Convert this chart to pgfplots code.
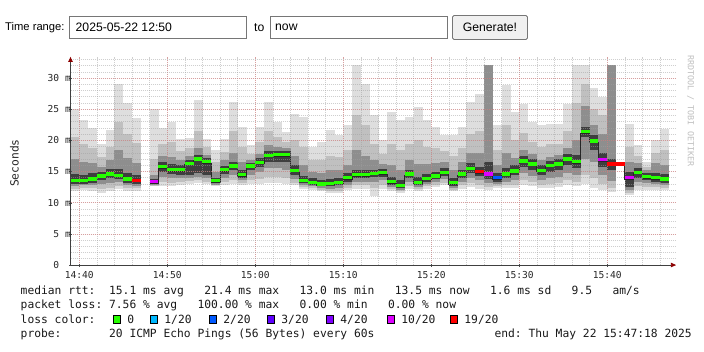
\documentclass[border=0pt]{standalone}
\usepackage{pgfplots}
\pgfplotsset{compat=1.18}
\usepackage{pgfplotstable}
\usepackage{fontspec}
\setmainfont{Liberation Sans}
\setmonofont{DejaVu Sans Mono}
\usetikzlibrary{arrows.meta}

\definecolor{sA}{HTML}{DEDEDE}
\definecolor{sB}{HTML}{C0C0C0}
\definecolor{sC}{HTML}{8E8E8E}
\definecolor{sD}{HTML}{3E3E3E}
\definecolor{l0}{HTML}{26FF00}
\definecolor{l1}{HTML}{00B8FF}
\definecolor{l2}{HTML}{0059FF}
\definecolor{l3}{HTML}{5E00FF}
\definecolor{l4}{HTML}{7E00FF}
\definecolor{l10}{HTML}{DD00FF}
\definecolor{l19}{HTML}{FF0000}
\definecolor{mgrid}{HTML}{E07070}
\definecolor{ngrid}{HTML}{A0A0A0}
\definecolor{boxgray}{HTML}{767676}

\newcommand{\legfont}{\ttfamily\fontsize{11.3}{13}\selectfont\frenchspacing}
\newcommand{\tickfont}{\ttfamily\fontsize{9.6}{11}\selectfont}
\newcommand{\formfont}{\rmfamily\fontsize{12.2}{14}\selectfont}
\newcommand{\swatch}[1]{{\setlength{\fboxsep}{0pt}\setlength{\fboxrule}{0.6pt}\fcolorbox{black}{#1}{\rule{0pt}{7.5pt}\hspace{6.5pt}}}}

% x = centre of the one-minute bar (minutes after 14:40)
\pgfplotstableread{
x    lo1  lo2  lo3  lo4  med  hi4  hi3  hi2  hi1
-0.5 11.8 12.2 12.7 13.0 13.6 14.6 17.0 20.5 25.1
0.5  12.0 12.4 12.8 13.0 13.6 14.5 16.5 19.4 23.3
1.5  11.8 12.3 12.9 13.2 13.8 14.7 16.3 18.7 22.0
2.5  11.6 12.2 13.0 13.6 14.3 15.0 15.8 17.4 19.4
3.5  11.8 12.4 13.2 13.9 14.6 15.4 16.8 18.9 21.7
4.5  12.2 12.7 13.3 13.8 14.4 15.4 18.5 23.0 29.0
5.5  11.8 12.3 12.8 13.2 13.8 14.8 17.2 21.0 26.0
6.5  11.9 12.3 12.7 13.0 13.6 14.5 16.4 19.6 23.6
7.5  nan  nan  nan  nan  nan  nan  nan  nan  nan
8.5  12.6 12.7 12.9 13.0 13.4 13.8 14.5 17.0 25.1
9.5  12.6 13.3 14.2 15.0 15.8 16.5 17.5 19.5 22.0
10.5 12.6 13.2 14.0 14.6 15.3 16.2 17.3 19.8 23.0
11.5 12.8 13.3 13.9 14.5 15.3 16.0 16.8 18.3 20.3
12.5 13.0 13.5 14.0 14.5 16.3 16.9 17.5 18.8 20.4
13.5 13.2 13.6 14.2 14.8 17.0 17.6 18.8 21.5 26.5
14.5 13.0 13.4 14.0 14.5 16.6 17.1 17.6 18.9 20.3
15.5 12.6 12.8 12.9 13.1 13.5 14.0 15.0 16.5 18.5
16.5 12.8 13.3 14.0 14.6 15.3 15.9 16.8 18.2 20.2
17.5 13.0 13.6 14.4 15.2 15.9 16.6 18.0 21.5 26.2
18.5 12.8 13.1 13.6 14.0 14.5 15.2 16.5 19.0 22.1
19.5 13.0 13.6 14.5 15.2 15.9 16.4 16.8 17.8 19.3
20.5 13.0 13.8 15.0 15.8 16.5 17.1 17.8 19.8 22.2
21.5 13.2 14.2 15.5 16.5 17.6 18.3 19.2 21.5 26.2
22.5 13.2 14.2 15.5 16.5 17.7 18.3 19.0 20.5 23.0
23.5 13.0 14.0 15.3 16.6 17.7 18.3 18.8 19.8 21.4
24.5 12.8 13.2 13.8 14.5 15.2 16.0 17.5 20.0 24.3
25.5 12.2 12.5 12.8 13.1 13.6 14.3 16.0 19.0 23.8
26.5 12.0 12.3 12.6 12.9 13.3 14.0 15.0 16.8 19.0
27.5 11.8 12.0 12.3 12.6 13.0 13.6 14.8 16.8 19.8
28.5 11.6 11.9 12.2 12.6 13.1 13.8 15.2 17.5 21.7
29.5 11.5 11.9 12.3 12.8 13.3 14.0 15.3 17.3 20.9
30.5 12.0 12.4 12.9 13.4 14.0 14.7 16.0 18.5 22.5
31.5 12.2 12.8 13.4 14.0 14.5 15.3 18.5 24.0 32.1
32.5 12.2 12.8 13.4 13.9 14.5 15.2 17.5 22.5 29.0
33.5 11.1 12.3 13.3 14.1 14.7 15.3 16.8 19.5 24.1
34.5 12.2 12.9 13.6 14.2 14.8 15.4 16.2 17.8 20.1
35.5 11.9 12.2 12.5 12.9 13.4 14.2 16.0 19.5 24.6
36.5 11.6 11.8 12.0 12.3 12.8 13.6 15.3 18.5 23.3
37.5 12.2 12.7 13.3 13.9 14.6 15.3 16.8 19.5 23.8
38.5 11.9 12.2 12.5 12.8 13.3 14.1 16.2 20.0 25.4
39.5 12.2 12.6 13.0 13.4 13.9 14.6 16.2 19.0 23.3
40.5 12.5 12.9 13.3 13.8 14.3 15.0 16.3 18.8 22.2
41.5 12.8 13.2 13.8 14.3 14.9 15.6 16.5 18.3 20.9
42.5 11.8 12.1 12.4 12.7 13.2 14.0 15.3 17.5 20.9
43.5 12.2 12.8 13.4 14.0 14.6 15.3 16.5 18.8 22.2
44.5 12.5 13.2 14.0 14.8 15.5 16.3 18.0 21.0 26.2
45.5 12.2 12.8 13.6 14.3 15.0 15.8 18.0 21.5 27.5
46.5 12.0 12.5 13.2 13.8 14.6 16.5 32.1 32.1 32.1
47.5 12.3 12.6 13.0 13.4 14.0 14.8 16.0 18.5 22.5
48.5 12.3 12.8 13.4 13.9 14.6 15.5 18.0 22.5 28.9
49.5 12.3 12.9 13.7 14.4 15.1 16.0 17.2 20.0 24.5
50.5 12.8 13.6 14.8 15.8 16.7 17.5 18.5 21.2 25.9
51.5 12.6 13.3 14.3 15.2 16.2 17.0 17.8 19.8 23.0
52.5 12.4 12.9 13.7 14.4 15.2 16.0 16.8 19.0 22.5
53.5 12.4 13.0 14.0 15.0 16.0 16.7 17.4 19.5 22.7
54.5 12.5 13.1 14.2 15.3 16.2 17.0 17.6 19.5 22.7
55.5 12.8 13.6 14.8 16.0 17.0 17.8 18.8 21.5 25.9
56.5 12.6 13.4 14.5 15.6 16.6 17.6 20.0 26.0 32.1
57.5 13.0 14.5 17.0 20.5 21.4 22.2 25.5 29.0 32.1
58.5 12.3 14.0 16.5 18.5 19.9 20.8 22.5 25.0 28.4
59.5 12.0 13.0 14.5 15.8 16.9 18.0 21.0 24.0 26.9
60.5 11.7 12.3 13.5 15.2 16.2 17.0 32.1 32.1 32.1
61.5 nan  nan  nan  nan  16.2 nan  nan  nan  nan
62.5 11.2 11.5 12.0 12.5 14.0 15.0 16.5 19.0 22.7
63.5 12.0 12.6 13.4 14.0 14.9 15.5 16.3 17.5 19.3
64.5 12.0 12.5 13.1 13.6 14.2 14.8 15.2 15.8 16.6
65.5 12.0 12.5 13.0 13.4 14.0 14.8 16.3 18.0 20.1
66.5 12.0 12.4 12.8 13.2 13.8 14.6 16.0 18.5 21.8
}\smoke

% one smoke band: a bar from column lo to column hi, one minute wide
\pgfplotsset{
  smokeband/.style={draw=none, mark=none,
    error bars/.cd, y dir=plus, y explicit, error mark=none,
    error bar style={draw=#1, solid, line width=8.85pt, line cap=butt}},
}

\begin{document}
\begin{tikzpicture}
\path[use as bounding box] (0pt,0pt) rectangle (704pt,-351pt);

% ---- form row ----
\node[anchor=west, font=\rmfamily\fontsize{11.2}{14}\selectfont, inner sep=0pt] at (5pt,-27.5pt) {Time range:};
\draw[draw=boxgray, line width=0.8pt] (69.5pt,-16.5pt) rectangle (246.5pt,-38.5pt);
\node[anchor=west, font=\formfont, inner sep=0pt] at (75.5pt,-27.5pt) {2025-05-22 12:50};
\node[anchor=west, font=\formfont, inner sep=0pt] at (254pt,-27.5pt) {to};
\draw[draw=boxgray, line width=0.8pt] (270.5pt,-16.5pt) rectangle (447.5pt,-38.5pt);
\node[anchor=west, font=\formfont, inner sep=0pt] at (275pt,-27.5pt) {now};
\draw[draw=boxgray, fill=black!6, line width=0.8pt, rounded corners=1.5pt] (452.5pt,-15.5pt) rectangle (527.5pt,-39.5pt);
\node[font=\formfont, inner sep=0pt] at (490pt,-27.5pt) {Generate!};

\begin{axis}[
  at={(70.5pt,-265pt)}, anchor=south west,
  scale only axis, width=605.4pt, height=208.1pt,
  xmin=-1, xmax=67.8, ymin=0, ymax=33.4,
  axis on top,
  axis x line=bottom, axis y line=left,
  x axis line style={draw=black!75, line width=0.8pt, -{Triangle[length=5pt,width=4.5pt,color=red!55!black]}},
  y axis line style={draw=black!75, line width=0.8pt, -{Triangle[length=5pt,width=4.5pt,color=red!55!black]}},
  xtick={0,10,...,60},
  xticklabels={14:40,14:50,15:00,15:10,15:20,15:30,15:40},
  minor xtick={0,2,...,66},
  ytick={0,5,...,30},
  yticklabels={0\phantom{\ m},5 m,10 m,15 m,20 m,25 m,30 m},
  minor ytick={1,2,...,33},
  grid=both,
  major grid style={draw=mgrid, draw opacity=0.5, line width=0.6pt, dash pattern=on 1pt off 1pt},
  minor grid style={draw=ngrid, draw opacity=0.5, line width=0.6pt, dash pattern=on 1pt off 1pt},
  tick style={draw=black!70},
  major tick length=3pt, minor tick length=0pt, tick align=center,
  xticklabel style={font=\tickfont, inner sep=0pt, yshift=-5pt, text=black!85},
  yticklabel style={font=\tickfont, inner sep=0pt, xshift=2pt, text=black!85},
  ylabel={Seconds},
  ylabel style={font=\legfont, at={(axis description cs:-0.0928,0.49)}, anchor=center, text=black!85},
]
% smoke (nested bands, outermost first)
\addplot[smokeband=sA] table[x=x, y=lo1, y error expr=\thisrow{hi1}-\thisrow{lo1}] {\smoke};
\addplot[smokeband=sB] table[x=x, y=lo2, y error expr=\thisrow{hi2}-\thisrow{lo2}] {\smoke};
\addplot[smokeband=sC] table[x=x, y=lo3, y error expr=\thisrow{hi3}-\thisrow{lo3}] {\smoke};
\addplot[smokeband=sD] table[x=x, y=lo4, y error expr=\thisrow{hi4}-\thisrow{lo4}] {\smoke};
% median step line
\addplot[const plot, draw=black!85, line width=0.9pt, unbounded coords=jump, yshift=-1.5pt] coordinates {
(-1,13.6) (0,13.6) (1,13.8) (2,14.3) (3,14.6) (4,14.4) (5,13.8) (6,13.6) (7,13.6) (7,nan)
(8,13.4) (9,15.8) (10,15.3) (11,15.3) (12,16.3) (13,17.0) (14,16.6) (15,13.5) (16,15.3)
(17,15.9) (18,14.5) (19,15.9) (20,16.5) (21,17.6) (22,17.7) (23,17.7) (24,15.2) (25,13.6)
(26,13.3) (27,13.0) (28,13.1) (29,13.3) (30,14.0) (31,14.5) (32,14.5) (33,14.7) (34,14.8)
(35,13.4) (36,12.8) (37,14.6) (38,13.3) (39,13.9) (40,14.3) (41,14.9) (42,13.2) (43,14.6)
(44,15.5) (45,15.0) (46,14.6) (47,14.0) (48,14.6) (49,15.1) (50,16.7) (51,16.2) (52,15.2)
(53,16.0) (54,16.2) (55,17.0) (56,16.6) (57,21.4) (58,19.9) (59,16.9) (60,16.2) (61,16.2)
(62,14.0) (63,14.9) (64,14.2) (65,14.0) (66,13.8) (67,13.8)};
% median coloured by loss
\addplot[only marks, mark=-, mark size=4.4pt, mark options={draw=l0, line width=3.2pt}] table[x=x, y=med] {\smoke};
\addplot[only marks, mark=-, mark size=4.4pt, mark options={draw=l19, line width=3.2pt}] coordinates {(6.5,13.6) (45.5,15.0) (60.5,16.2) (61.5,16.2)};
\addplot[only marks, mark=-, mark size=4.4pt, mark options={draw=l10, line width=3.2pt}] coordinates {(8.5,13.4) (46.5,14.6) (59.5,16.9) (62.5,14.0)};
\addplot[only marks, mark=-, mark size=4.4pt, mark options={draw=l2, line width=3.2pt}] coordinates {(47.5,14.0)};
\end{axis}

% watermark
\node[rotate=-90, anchor=west, font=\ttfamily\fontsize{8.4}{9}\selectfont, text=black!25, inner sep=0pt] at (690.5pt,-55pt) {RRDTOOL / TOBI OETIKER};

% legend lines
\node[anchor=base west, font=\legfont, inner sep=0pt, text=black!90] at (20.5pt,-294.5pt)
  {median rtt:~ 15.1 ms avg~~ 21.4 ms max~~ 13.0 ms min~~ 13.5 ms now~~ 1.6 ms sd~~ 9.5~~ am/s};
\node[anchor=base west, font=\legfont, inner sep=0pt, text=black!90] at (20.5pt,-308.5pt)
  {packet loss: 7.56 \% avg~~ 100.00 \% max~~ 0.00 \% min~~ 0.00 \% now};
\node[anchor=base west, font=\legfont, inner sep=0pt, text=black!90] at (20.5pt,-323pt) {loss color:};
\node[anchor=base west, font=\legfont, inner sep=0pt, text=black!90] at (113pt,-323pt) {\swatch{l0}\hspace{6.5pt}0};
\node[anchor=base west, font=\legfont, inner sep=0pt, text=black!90] at (150pt,-323pt) {\swatch{l1}\hspace{6.5pt}1/20};
\node[anchor=base west, font=\legfont, inner sep=0pt, text=black!90] at (209pt,-323pt) {\swatch{l2}\hspace{6.5pt}2/20};
\node[anchor=base west, font=\legfont, inner sep=0pt, text=black!90] at (267pt,-323pt) {\swatch{l3}\hspace{6.5pt}3/20};
\node[anchor=base west, font=\legfont, inner sep=0pt, text=black!90] at (326pt,-323pt) {\swatch{l4}\hspace{6.5pt}4/20};
\node[anchor=base west, font=\legfont, inner sep=0pt, text=black!90] at (387pt,-323pt) {\swatch{l10}\hspace{6.5pt}10/20};
\node[anchor=base west, font=\legfont, inner sep=0pt, text=black!90] at (450pt,-323pt) {\swatch{l19}\hspace{6.5pt}19/20};
\node[anchor=base west, font=\legfont, inner sep=0pt, text=black!90] at (20.5pt,-337pt)
  {probe:~~~~~~ 20 ICMP Echo Pings (56 Bytes) every 60s};
\node[anchor=base east, font=\legfont, inner sep=0pt, text=black!90] at (692pt,-337pt)
  {end: Thu May 22 15:47:18 2025};
\end{tikzpicture}
\end{document}
